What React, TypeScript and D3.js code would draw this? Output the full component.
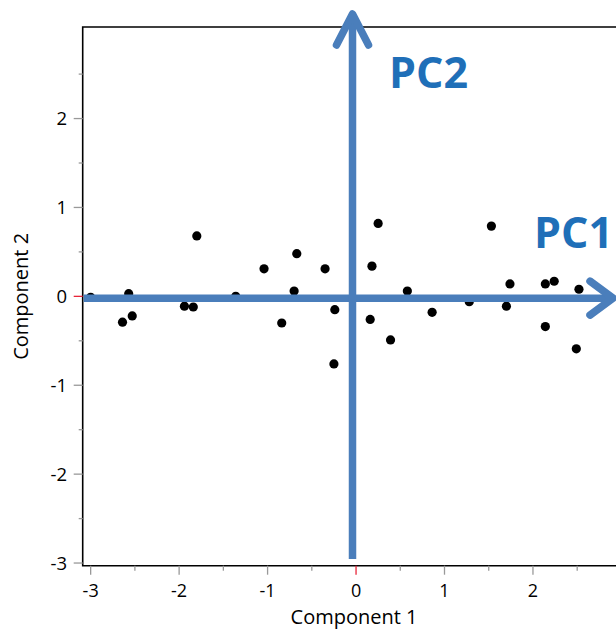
import React from "react";
import * as d3 from "d3";

const comp1 = [-3.0, -2.64, -2.57, -2.53, -1.94, -1.84, -1.8, -1.36, -1.04, -0.84, -0.7, -0.67, -0.35, -0.24, -0.25, 0.25, 0.18, 0.16, 0.39, 0.58, 0.86, 1.28, 1.53, 1.7, 1.74, 2.14, 2.24, 2.14, 2.52, 2.49];
const comp2 = [-0.01, -0.29, 0.03, -0.22, -0.11, -0.12, 0.68, 0.0, 0.31, -0.3, 0.06, 0.48, 0.31, -0.15, -0.76, 0.82, 0.34, -0.26, -0.49, 0.06, -0.18, -0.06, 0.79, -0.11, 0.14, 0.14, 0.17, -0.34, 0.08, -0.59];
const xTicks = [-3, -2, -1, 0, 1, 2];
const yTicks = [-3, -2, -1, 0, 1, 2];
const xMinor = [-2.5, -1.5, -0.5, 0.5, 1.5, 2.5];
const yMinor = [-2.5, -1.5, -0.5, 0.5, 1.5, 2.5];
const arrowLabels = ["PC1", "PC2"];

export default function App() {
  const W = 616, H = 630;
  const left = 82.7, top = 27, bottom = 565.7, right = 640;
  const x = d3.scaleLinear().domain([-3.09, 3.21]).range([left, right]);
  const y = d3.scaleLinear().domain([-3.03, 3.03]).range([bottom, top]);
  const blue = "#4a7ebb";
  const textBlue = "#1f6fb8";
  const font = "'Open Sans', 'Noto Sans', sans-serif";
  const pts = comp1.map((v, i) => [v, comp2[i]]);

  const hY = y(-0.02);
  const vX = x(-0.04);

  return (
    <svg width={W} height={H} style={{ position: "absolute", left: 0, top: 0, background: "#fff" }}>
      {pts.map((p, i) => (
        <circle key={i} cx={x(p[0])} cy={y(p[1])} r={4.6} fill="#000" />
      ))}
      <path d={`M${right},${top}H${left}V${bottom}H${right}`} fill="none" stroke="#000" strokeWidth={1.6} />
      {yTicks.map((t) => (
        <g key={"y" + t}>
          <line x1={left - 9} x2={left} y1={y(t)} y2={y(t)} stroke={t === 0 ? "#e8263a" : "#999"} strokeWidth={1.3} />
          <text x={67} y={y(t)} dy="0.35em" textAnchor="end" fontFamily={font} fontSize={18.5} fill="#000">
            {t}
          </text>
        </g>
      ))}
      {yMinor.map((t) => (
        <line key={"ym" + t} x1={left - 4} x2={left} y1={y(t)} y2={y(t)} stroke="#999" strokeWidth={1.3} />
      ))}
      {xTicks.map((t) => (
        <g key={"x" + t}>
          <line x1={x(t)} x2={x(t)} y1={bottom} y2={bottom + 9} stroke={t === 0 ? "#e8263a" : "#999"} strokeWidth={1.3} />
          <text x={x(t)} y={597} textAnchor="middle" fontFamily={font} fontSize={18} fill="#000">
            {t}
          </text>
        </g>
      ))}
      {xMinor.map((t) => (
        <line key={"xm" + t} x1={x(t)} x2={x(t)} y1={bottom} y2={bottom + 5} stroke="#999" strokeWidth={1.3} />
      ))}
      <text x={x(0) - 2} y={624} textAnchor="middle" fontFamily={font} fontSize={20} fill="#000">
        Component 1
      </text>
      <text transform={`translate(28,${y(0)}) rotate(-90)`} textAnchor="middle" fontFamily={font} fontSize={20} fill="#000">
        Component 2
      </text>
      <g stroke={blue} strokeWidth={7.5} fill="none" strokeLinecap="round" strokeLinejoin="round">
        <line x1={left + 1} x2={612} y1={hY} y2={hY} strokeLinecap="butt" />
        <path d={`M590,${hY - 17}L613,${hY}L590,${hY + 17}`} />
        <line x1={vX} x2={vX} y1={559} y2={16} strokeLinecap="butt" />
        <path d={`M${vX - 16},45L${vX},14L${vX + 16},45`} />
      </g>
      <text x={534} y={248} fontFamily={font} fontWeight="bold" fontSize={43} fill={textBlue}>
        {arrowLabels[0]}
      </text>
      <text x={389} y={88} fontFamily={font} fontWeight="bold" fontSize={43} fill={textBlue}>
        {arrowLabels[1]}
      </text>
    </svg>
  );
}
